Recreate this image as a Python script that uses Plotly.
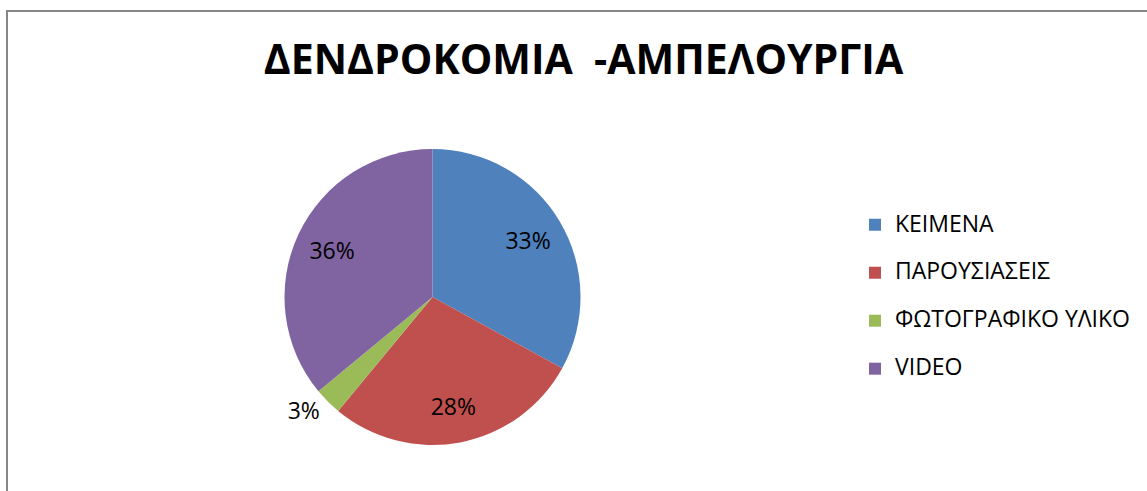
import plotly.graph_objects as go

title_text = "ΔΕΝΔΡΟΚΟΜΙΑ  -ΑΜΠΕΛΟΥΡΓΙΑ"
categories = ["ΚΕΙΜΕΝΑ", "ΠΑΡΟΥΣΙΑΣΕΙΣ", "ΦΩΤΟΓΡΑΦΙΚΟ ΥΛΙΚΟ", "VIDEO"]
values = [33, 28, 3, 36]
colors = ["#4F81BD", "#C0504D", "#9BBB59", "#8064A2"]
text_positions = ["inside", "inside", "outside", "inside"]

FONT = "Open Sans"
W, H = 1147, 491
pie_domain = dict(x=[284 / W, 581 / W], y=[46 / H, 342 / H])

legend_labels = [f"<span style='font-size:23px'>{c}</span><br> " for c in categories]

# Coloured pie with legend entries
pie = go.Pie(
    labels=legend_labels,
    values=values,
    sort=False,
    direction="clockwise",
    rotation=0,
    marker=dict(colors=colors, line=dict(width=0)),
    textinfo="none",
    domain=pie_domain,
    hoverinfo="percent",
)

# Transparent ring on top, only to place the percentage labels
# at the Excel-like radius (middle of the ring)
labels_ring = go.Pie(
    labels=categories,
    values=values,
    sort=False,
    direction="clockwise",
    rotation=0,
    hole=0.5,
    marker=dict(colors=["rgba(0,0,0,0)"] * len(values), line=dict(width=0)),
    textinfo="percent",
    texttemplate="%{percent:.0%}",
    textposition=text_positions,
    insidetextorientation="horizontal",
    textfont=dict(family=FONT, size=23, color="#000000"),
    outsidetextfont=dict(family=FONT, size=23, color="#000000"),
    insidetextfont=dict(family=FONT, size=23, color="#000000"),
    domain=pie_domain,
    showlegend=False,
    hoverinfo="skip",
)

fig = go.Figure([pie, labels_ring])

fig.update_layout(
    width=W,
    height=H,
    margin=dict(l=0, r=0, t=0, b=0),
    paper_bgcolor="white",
    plot_bgcolor="white",
    font=dict(family=FONT, color="#000000"),
    title=dict(
        text=title_text,
        x=583.5 / W,
        xanchor="center",
        y=1 - 60 / H,
        yanchor="middle",
        font=dict(family=FONT, size=41, color="#000000", weight="bold"),
    ),
    showlegend=True,
    legend=dict(
        x=855 / W,
        xanchor="left",
        y=1 - 308 / H,
        yanchor="middle",
        valign="top",
        font=dict(family=FONT, size=17.3, color="#000000"),
        bgcolor="rgba(0,0,0,0)",
    ),
    shapes=[
        dict(
            type="rect",
            xref="paper",
            yref="paper",
            x0=7 / W,
            x1=1.02,
            y0=-0.02,
            y1=1 - 11 / H,
            line=dict(color="#868686", width=2),
            fillcolor="rgba(0,0,0,0)",
            layer="below",
        )
    ],
)

fig.write_html(
    "out.html",
    config={"displayModeBar": False},
    post_script="document.body.style.margin='0px';",
)
